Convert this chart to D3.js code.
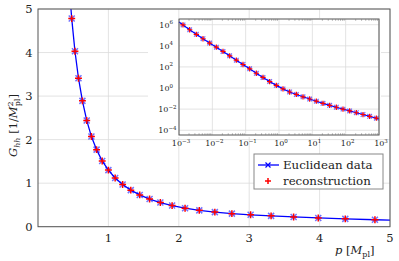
<!DOCTYPE html>
<html>
<head>
<meta charset="utf-8">
<script src="https://cdn.jsdelivr.net/npm/d3@7"></script>
<style>
  body { margin: 0; background: #fff; }
  text { font-family: "DejaVu Serif", serif; fill: #222; }
</style>
</head>
<body>
<div id="chart"></div>
<script>
// main panel: p [M_pl] vs G_hh
const mainP = [0.437, 0.479, 0.525, 0.575, 0.631, 0.692, 0.759, 0.832, 0.912, 1.0,
  1.096, 1.202, 1.318, 1.445, 1.585, 1.738, 1.905, 2.089, 2.291, 2.512,
  2.754, 3.020, 3.311, 3.631, 3.981, 4.365, 4.786, 5.248];
const mainG = [5.65, 4.78, 4.03, 3.41, 2.89, 2.44, 2.07, 1.77, 1.51, 1.30,
  1.12, 0.97, 0.84, 0.73, 0.635, 0.555, 0.485, 0.425, 0.375, 0.335,
  0.300, 0.273, 0.249, 0.224, 0.201, 0.180, 0.160, 0.144];

// inset: log10 p vs log10 G
const insetLogP = [-3.0, -2.88, -2.68, -2.48, -2.28, -2.08, -1.88, -1.68, -1.48, -1.28,
  -1.08, -0.88, -0.68, -0.48, -0.28, -0.08, 0.12, 0.32, 0.52, 0.72,
  0.92, 1.12, 1.32, 1.52, 1.72, 1.92, 2.12, 2.32, 2.52, 2.72, 2.92, 3.0];
const insetLogG = [6.25, 5.98, 5.52, 5.09, 4.67, 4.26, 3.87, 3.47, 3.05, 2.64,
  2.23, 1.82, 1.40, 1.00, 0.61, 0.25, -0.08, -0.375, -0.61, -0.83,
  -1.04, -1.25, -1.45, -1.64, -1.82, -2.00, -2.17, -2.34, -2.51, -2.68, -2.86, -2.93];

const mainXTicks = [1, 2, 3, 4, 5];
const mainYTicks = [0, 1, 2, 3, 4, 5];
const insetXExp = [-3, -2, -1, 0, 1, 2, 3];
const insetYExp = [-4, -2, 0, 2, 4, 6];
const legendLabels = ["Euclidean data", "reconstruction"];

const width = 399, height = 261;
const frameColor = "#555", gridColor = "#dcdcdc";
const lineBlue = "#0000ff", markRed = "#ff0000";

const svg = d3.select("#chart").append("svg")
  .attr("width", width).attr("height", height);

const x = d3.scaleLinear().domain([0, 5]).range([38, 390]);
const y = d3.scaleLinear().domain([0, 5]).range([226.7, 9]);

const mainData = mainP.map((p, i) => ({p: p, g: mainG[i]}));

svg.append("clipPath").attr("id", "clipMain")
  .append("rect")
  .attr("x", x(0)).attr("y", y(5))
  .attr("width", x(5) - x(0)).attr("height", y(0) - y(5));

// grid
const grid = svg.append("g");
grid.selectAll(".gx").data(mainXTicks).enter().append("line")
  .attr("x1", d => x(d)).attr("x2", d => x(d))
  .attr("y1", y(0)).attr("y2", y(5))
  .attr("stroke", gridColor).attr("stroke-width", 0.8);
grid.selectAll(".gy").data(mainYTicks).enter().append("line")
  .attr("x1", x(0)).attr("x2", x(5))
  .attr("y1", d => y(d)).attr("y2", d => y(d))
  .attr("stroke", gridColor).attr("stroke-width", 0.8);

// curve + marks
const mainG_ = svg.append("g").attr("clip-path", "url(#clipMain)");
mainG_.append("path").datum(mainData)
  .attr("fill", "none").attr("stroke", lineBlue).attr("stroke-width", 1.3)
  .attr("d", d3.line().x(d => x(d.p)).y(d => y(d.g)));

const crossMark = (g, data, sx, sy, r, w) => {
  const pts = g.selectAll(null).data(data).enter().append("g")
    .attr("transform", d => "translate(" + sx(d) + "," + sy(d) + ")");
  pts.append("path")
    .attr("d", "M" + -r + "," + -r + "L" + r + "," + r + "M" + -r + "," + r + "L" + r + "," + -r)
    .attr("stroke", lineBlue).attr("stroke-opacity", 0.55).attr("stroke-width", w);
  pts.append("path")
    .attr("d", "M" + -r * 1.15 + ",0H" + r * 1.15 + "M0," + -r * 1.15 + "V" + r * 1.15)
    .attr("stroke", markRed).attr("stroke-width", w);
};

crossMark(mainG_, mainData.filter(d => d.p <= 5 && d.g <= 5), d => x(d.p), d => y(d.g), 3, 1.5);

// frame and ticks
const axis = svg.append("g");
axis.append("rect")
  .attr("x", x(0)).attr("y", y(5))
  .attr("width", x(5) - x(0)).attr("height", y(0) - y(5))
  .attr("fill", "none").attr("stroke", frameColor).attr("stroke-width", 1);

axis.selectAll(".tx").data(mainXTicks).enter().append("text")
  .attr("x", d => x(d)).attr("y", 241.5)
  .attr("text-anchor", "middle").attr("font-size", 11.5)
  .text(d => d);
axis.selectAll(".ty").data(mainYTicks).enter().append("text")
  .attr("x", 32.5).attr("y", d => y(d) + 4.2)
  .attr("text-anchor", "end").attr("font-size", 11.5)
  .text(d => d);

// axis labels
const xl = svg.append("text").attr("x", 335).attr("y", 254).attr("font-size", 11.5);
xl.append("tspan").attr("font-style", "italic").text("p");
xl.append("tspan").text(" [");
xl.append("tspan").attr("font-style", "italic").text("M");
xl.append("tspan").attr("font-size", 8).attr("dy", 2.5).text("pl");
xl.append("tspan").attr("dy", -2.5).text("]");

const yl = svg.append("text")
  .attr("transform", "translate(17,157) rotate(-90)")
  .attr("font-size", 11.5);
yl.append("tspan").attr("font-style", "italic").text("G");
yl.append("tspan").attr("font-style", "italic").attr("font-size", 8).attr("dy", 2.5).text("hh");
yl.append("tspan").attr("dy", -2.5).text(" [1/");
yl.append("tspan").attr("font-style", "italic").text("M");
yl.append("tspan").attr("font-size", 8).attr("dy", -4.5).text("2");
yl.append("tspan").attr("font-size", 8).attr("dx", -5).attr("dy", 7.5).text("pl");
yl.append("tspan").attr("dy", -3).text("]");

// ---- inset ----
const xi = d3.scaleLog().domain([1e-3, 1e3]).range([179, 379]);
const yi = d3.scaleLog().domain([Math.pow(10, -4.45), Math.pow(10, 6.54)]).range([135, 19]);

const inset = svg.append("g");
inset.append("rect")
  .attr("x", 148).attr("y", 18).attr("width", 233).attr("height", 119)
  .attr("fill", "#fff");

inset.selectAll(".igx").data(insetXExp).enter().append("line")
  .attr("x1", d => xi(Math.pow(10, d))).attr("x2", d => xi(Math.pow(10, d)))
  .attr("y1", yi.range()[0]).attr("y2", yi.range()[1])
  .attr("stroke", gridColor).attr("stroke-width", 0.8);
inset.selectAll(".igy").data(insetYExp).enter().append("line")
  .attr("x1", xi.range()[0]).attr("x2", xi.range()[1])
  .attr("y1", d => yi(Math.pow(10, d))).attr("y2", d => yi(Math.pow(10, d)))
  .attr("stroke", gridColor).attr("stroke-width", 0.8);

// minor ticks on x (top and bottom)
const minor = [];
insetXExp.slice(0, -1).forEach(e => {
  for (let k = 2; k <= 9; k++) minor.push(k * Math.pow(10, e));
});
inset.selectAll(".mt").data(minor).enter().append("line")
  .attr("x1", d => xi(d)).attr("x2", d => xi(d))
  .attr("y1", 135).attr("y2", 133)
  .attr("stroke", "#888").attr("stroke-width", 0.5);
inset.selectAll(".mtt").data(minor).enter().append("line")
  .attr("x1", d => xi(d)).attr("x2", d => xi(d))
  .attr("y1", 19).attr("y2", 21)
  .attr("stroke", "#888").attr("stroke-width", 0.5);

const insetData = insetLogP.map((lp, i) => ({p: Math.pow(10, lp), g: Math.pow(10, insetLogG[i])}));

inset.append("path").datum(insetData)
  .attr("fill", "none").attr("stroke", lineBlue).attr("stroke-width", 1.2)
  .attr("d", d3.line().x(d => xi(d.p)).y(d => yi(d.g)));

crossMark(inset, insetData.slice(1, -1), d => xi(d.p), d => yi(d.g), 2.3, 1.2);

inset.append("rect")
  .attr("x", 179).attr("y", 19).attr("width", 200).attr("height", 116)
  .attr("fill", "none").attr("stroke", frameColor).attr("stroke-width", 1);

const expLabel = (sel) => {
  sel.append("tspan").text("10");
  sel.append("tspan").attr("font-size", 5.5).attr("dy", -3.5)
    .text(d => d < 0 ? "\u2212" + (-d) : d);
};
inset.selectAll(".ilx").data(insetXExp).enter().append("text")
  .attr("x", d => xi(Math.pow(10, d)) + 2).attr("y", 146)
  .attr("text-anchor", "middle").attr("font-size", 8)
  .call(expLabel);
inset.selectAll(".ily").data(insetYExp).enter().append("text")
  .attr("x", d => d < 0 ? 176.5 : 173).attr("y", d => yi(Math.pow(10, d)) + 3)
  .attr("text-anchor", "end").attr("font-size", 8)
  .call(expLabel);

// ---- legend ----
const lg = svg.append("g");
lg.append("rect")
  .attr("x", 254).attr("y", 154).attr("width", 129).attr("height", 35)
  .attr("fill", "#fff").attr("stroke", "#888").attr("stroke-width", 1);
lg.append("line")
  .attr("x1", 258).attr("x2", 279).attr("y1", 165).attr("y2", 165)
  .attr("stroke", lineBlue).attr("stroke-width", 1.3);
lg.append("path")
  .attr("d", "M265.5,162.5L270.5,167.5M265.5,167.5L270.5,162.5")
  .attr("stroke", lineBlue).attr("stroke-width", 1.2);
lg.append("path")
  .attr("d", "M265,181H271M268,178V184")
  .attr("stroke", markRed).attr("stroke-width", 1.5);
lg.selectAll(".lt").data(legendLabels).enter().append("text")
  .attr("x", 283).attr("y", (d, i) => 169.3 + i * 15.3)
  .attr("font-size", 11.8)
  .text(d => d);
</script>
</body>
</html>
